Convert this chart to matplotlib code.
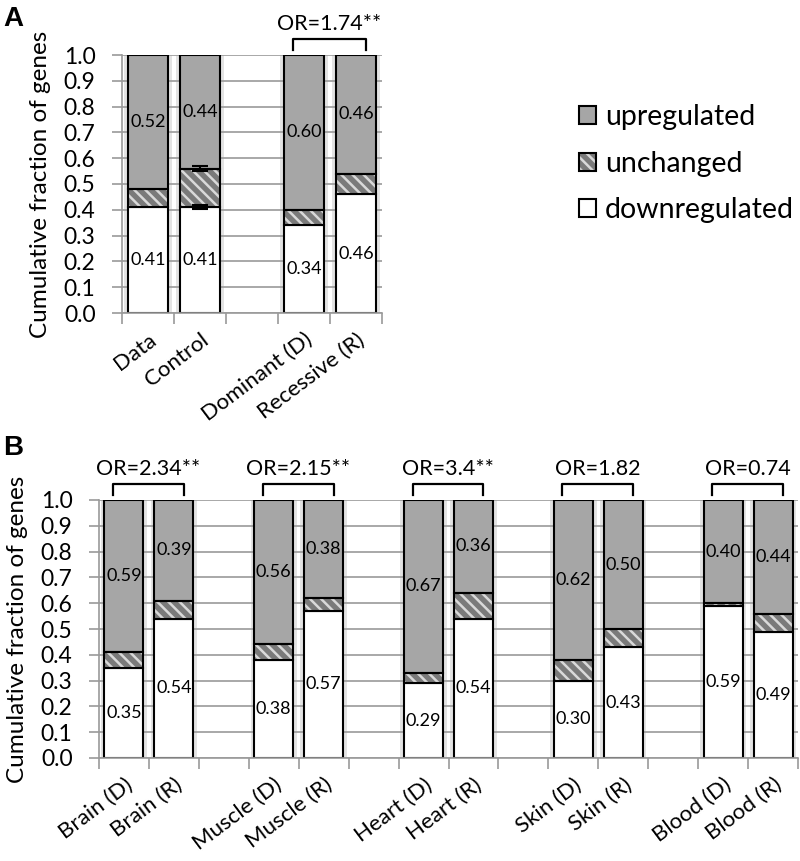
import numpy as np
import matplotlib
matplotlib.use("Agg")
import matplotlib.pyplot as plt
from matplotlib.patches import Patch

plt.rcParams['font.family'] = ['Lato', 'DejaVu Sans']
plt.rcParams['hatch.linewidth'] = 1.8

nan = np.nan

# Panel A data
a_cats = ["Data", "Control", "", "Dominant (D)", "Recessive (R)"]
a_down = [0.41, 0.41, nan, 0.34, 0.46]
a_unch = [0.07, 0.15, nan, 0.06, 0.08]
a_up = [0.52, 0.44, nan, 0.60, 0.46]
a_err_y = [0.41, 0.56]     # control error bar positions
a_err = [0.008, 0.008]
a_or = ["OR=1.74**"]
a_or_start = [3]

# Panel B data
b_cats = ["Brain (D)", "Brain (R)", "", "Muscle (D)", "Muscle (R)", "",
          "Heart (D)", "Heart (R)", "", "Skin (D)", "Skin (R)", "",
          "Blood (D)", "Blood (R)"]
b_down = [0.35, 0.54, nan, 0.38, 0.57, nan, 0.29, 0.54, nan, 0.30, 0.43, nan, 0.59, 0.49]
b_unch = [0.06, 0.07, nan, 0.06, 0.05, nan, 0.04, 0.10, nan, 0.08, 0.07, nan, 0.01, 0.07]
b_up = [0.59, 0.39, nan, 0.56, 0.38, nan, 0.67, 0.36, nan, 0.62, 0.50, nan, 0.40, 0.44]
b_or = ["OR=2.34**", "OR=2.15**", "OR=3.4**", "OR=1.82", "OR=0.74"]
b_or_start = [0, 3, 6, 9, 12]

UP_COL = "#a6a6a6"
UNCH_COL = "#7a7a7a"
STRIPE_COL = "#d9d9d9"
GRID_COL = "#9a9a9a"
BAR_W = 0.78


def draw_panel(ax, cats, down, unch, up, or_labels, or_start):
    n = len(cats)
    x = np.arange(n)
    down = np.array(down)
    unch = np.array(unch)
    up = np.array(up)
    ok = ~np.isnan(down)
    xs = x[ok]
    d, u, p = down[ok], unch[ok], up[ok]

    # soft shadow behind bars
    ax.bar(xs, d + u + p, width=0.93, color="#e3e3e3", lw=0, zorder=0.3)

    ax.bar(xs, d, width=BAR_W, color="white", edgecolor="black", lw=1.5, zorder=2)
    ax.bar(xs, u, bottom=d, width=BAR_W, color=UNCH_COL, edgecolor=STRIPE_COL,
           hatch="\\\\\\", lw=0, zorder=2)
    ax.bar(xs, u, bottom=d, width=BAR_W, fill=False, edgecolor="black", lw=1.5, zorder=3)
    ax.bar(xs, p, bottom=d + u, width=BAR_W, color=UP_COL, edgecolor="black", lw=1.5, zorder=2)

    for xi, di, ui, pi in zip(xs, d, u, p):
        ax.text(xi, di / 2, f"{di:.2f}", ha="center", va="center", fontsize=13, zorder=5)
        ax.text(xi, di + ui + pi / 2, f"{pi:.2f}", ha="center", va="center", fontsize=13, zorder=5)

    for lab, s in zip(or_labels, or_start):
        x0, x1 = s - 0.22, s + 1 + 0.2
        ax.plot([x0, x0, x1, x1], [1.02, 1.062, 1.062, 1.02], color="black", lw=1.6,
                clip_on=False, zorder=5)
        ax.text((x0 + x1) / 2, 1.08, lab, ha="center", va="bottom", fontsize=15.5)

    ax.set_xlim(-0.5, n - 0.5)
    ax.set_ylim(0, 1)
    ax.set_yticks(np.arange(0, 1.01, 0.1))
    ax.set_yticklabels([f"{v:.1f}" for v in np.arange(0, 1.01, 0.1)])
    ax.set_xticks(x)
    ax.set_xticklabels(cats, rotation=37, ha="right", rotation_mode="anchor")
    ax.set_xticks(np.arange(n + 1) - 0.5, minor=True)
    ax.tick_params(axis="x", which="major", length=0, labelsize=16, pad=12)
    ax.tick_params(axis="x", which="minor", length=8, width=1.2, color=GRID_COL)
    ax.tick_params(axis="y", length=7, width=1.2, color=GRID_COL, labelsize=16.5, pad=12)
    ax.set_axisbelow(True)
    ax.yaxis.grid(True, color=GRID_COL, lw=1.2)
    for side in ["top", "right"]:
        ax.spines[side].set_visible(False)
    for side in ["left", "bottom"]:
        ax.spines[side].set_color(GRID_COL)
        ax.spines[side].set_linewidth(1.2)
    ax.set_ylabel("Cumulative fraction of genes", fontsize=17.5, labelpad=9)


fig = plt.figure(figsize=(8, 8.61), dpi=100)

ax_a = fig.add_axes([122 / 800, 1 - 313 / 861, 260 / 800, 258 / 861])
draw_panel(ax_a, a_cats, a_down, a_unch, a_up, a_or, a_or_start)
ax_a.errorbar([1, 1], a_err_y, yerr=a_err, fmt="none", ecolor="black", capsize=6,
              elinewidth=1.5, capthick=1.5, zorder=4)

ax_b = fig.add_axes([99 / 800, 1 - 758 / 861, 699 / 800, 258 / 861])
draw_panel(ax_b, b_cats, b_down, b_unch, b_up, b_or, b_or_start)

fig.text(0.004, 0.993, "A", fontsize=20, fontweight="bold", family="Liberation Sans", va="top")
fig.text(0.004, 1 - 435 / 861, "B", fontsize=20, fontweight="bold", family="Liberation Sans", va="top")

handles = [
    Patch(facecolor=UP_COL, edgecolor="black", lw=1.5),
    (Patch(facecolor=UNCH_COL, edgecolor=STRIPE_COL, hatch="\\\\\\", lw=0),
     Patch(fill=False, edgecolor="black", lw=1.5)),
    Patch(facecolor="white", edgecolor="black", lw=1.5),
]
fig.legend(handles, ["upregulated", "unchanged", "downregulated"],
           loc="upper left", bbox_to_anchor=(0.706, 1 - 90 / 861), frameon=False,
           fontsize=20.5, handlelength=0.6, handleheight=0.6, handletextpad=0.3,
           labelspacing=0.72, borderpad=0)

fig.savefig("out.png", dpi=100)
